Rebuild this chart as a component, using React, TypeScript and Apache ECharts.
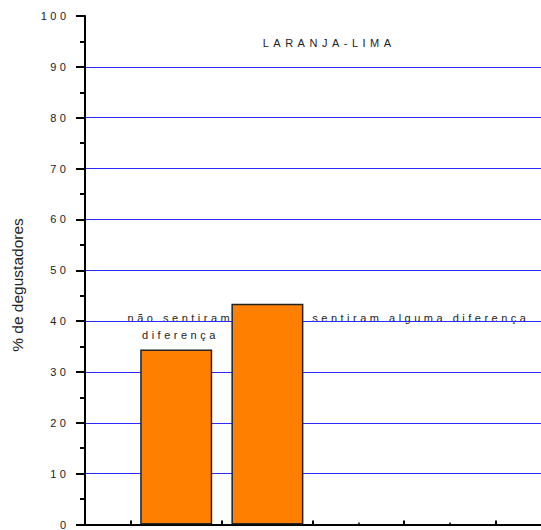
import React, { useEffect, useRef } from "react";
import * as echarts from "echarts";

// ---- data ----
const barPositions = [2, 4];
const barValues = [34.4, 43.4];
const yTicks = [0, 10, 20, 30, 40, 50, 60, 70, 80, 90, 100];
const xLongTicks = [1, 3, 5, 7, 9];
const xShortTicks = [2, 4, 6, 8];
const titleText = "LARANJA-LIMA";
const yAxisTitle = "% de degustadores";
const noteLeft = "não sentiram\ndiferença";
const noteRight = "sentiram alguma diferença";

const FONT = "'Liberation Sans', Arial, sans-serif";
const W = 541;
const H = 530;

export default function App() {
  const ref = useRef<HTMLDivElement>(null);

  useEffect(() => {
    if (!ref.current) return;
    const chart = echarts.init(ref.current, undefined, { renderer: "svg", width: W, height: H });

    const option: any = {
      animation: false,
      backgroundColor: "#ffffff",
      grid: { left: 85, right: 0, top: 16, bottom: 2, containLabel: false },
      xAxis: [
        {
          type: "value",
          min: 0,
          max: 10,
          interval: 1,
          position: "bottom",
          axisLine: { show: true, onZero: false, lineStyle: { color: "#000", width: 2 } },
          axisTick: { show: true, inside: true, length: 4, customValues: xLongTicks, lineStyle: { color: "#000", width: 2 } },
          axisLabel: { show: false },
          splitLine: { show: false },
        },
        {
          type: "value",
          min: 0,
          max: 10,
          interval: 1,
          position: "bottom",
          axisLine: { show: false },
          axisTick: { show: true, inside: true, length: 2, customValues: xShortTicks, lineStyle: { color: "#000", width: 1.5 } },
          axisLabel: { show: false },
          splitLine: { show: false },
        },
      ],
      yAxis: {
        type: "value",
        min: yTicks[0],
        max: yTicks[yTicks.length - 1],
        interval: 10,
        axisLine: { show: true, onZero: false, lineStyle: { color: "#000", width: 2 } },
        axisTick: { show: true, length: 9, lineStyle: { color: "#000", width: 2 } },
        minorTick: { show: true, splitNumber: 2, length: 5, lineStyle: { color: "#000", width: 2 } },
        axisLabel: {
          show: true,
          margin: 15.5,
          color: "#222",
          fontSize: 11,
          fontFamily: FONT,
        },
        splitLine: {
          show: true,
          showMinLine: false,
          showMaxLine: false,
          lineStyle: { color: "#2a2aff", width: 1 },
        },
      },
      series: [
        {
          type: "bar",
          xAxisIndex: 0,
          barWidth: 72,
          data: barPositions.map((x, i) => [x, barValues[i]]),
          itemStyle: { color: "#ff8000", borderColor: "#222", borderWidth: 1.5 },
        },
      ],
      graphic: [
        {
          type: "text",
          x: 262.7,
          y: 42.8,
          style: {
            text: titleText,
            fill: "#222",
            font: `11px ${FONT}`,
            textAlign: "left",
            textVerticalAlign: "middle",
          },
        },
        {
          type: "text",
          x: 180.4,
          y: 309.5,
          style: {
            text: noteLeft,
            fill: "#222",
            font: `11px ${FONT}`,
            textAlign: "center",
            textVerticalAlign: "top",
            lineHeight: 17,
          },
        },
        {
          type: "text",
          x: 312.3,
          y: 318,
          style: {
            text: noteRight,
            fill: "#222",
            font: `11px ${FONT}`,
            textAlign: "left",
            textVerticalAlign: "middle",
          },
        },
        {
          type: "text",
          x: 17,
          y: 285,
          rotation: Math.PI / 2,
          style: {
            text: yAxisTitle,
            fill: "#222",
            font: `15.5px ${FONT}`,
            textAlign: "center",
            textVerticalAlign: "middle",
          },
        },
      ],
    };

    chart.setOption(option);

    const applySpacing = () => {
      if (!ref.current) return;
      ref.current.querySelectorAll("text").forEach((t) => {
        const c = (t.textContent || "").trim();
        const el = t as SVGTextElement;
        if (c === yAxisTitle) {
          el.style.letterSpacing = "0px";
        } else if (c === titleText) {
          el.style.letterSpacing = "4.5px";
        } else {
          el.style.letterSpacing = "3.5px";
        }
      });
    };
    applySpacing();
    chart.on("finished", applySpacing);
    const raf = requestAnimationFrame(applySpacing);
    const tm = setTimeout(applySpacing, 50);

    return () => {
      cancelAnimationFrame(raf);
      clearTimeout(tm);
      chart.dispose();
    };
  }, []);

  return (
    <div
      ref={ref}
      style={{ position: "fixed", left: 0, top: 0, width: W, height: H, background: "#fff" }}
    />
  );
}
